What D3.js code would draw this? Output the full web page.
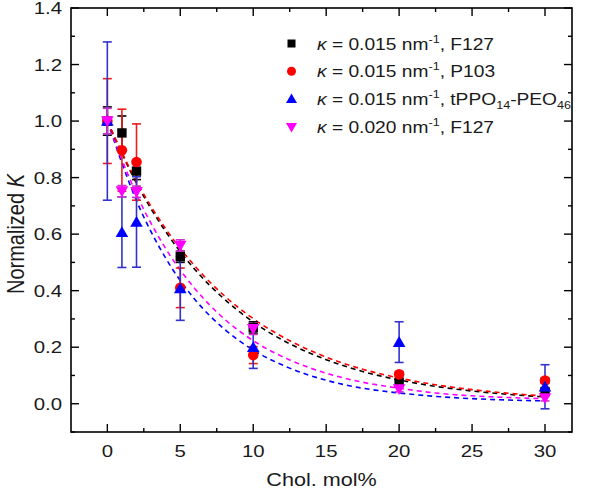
<!DOCTYPE html>
<html><head><meta charset="utf-8">
<script src="https://cdn.jsdelivr.net/npm/d3@7"></script>
<style>
html,body{margin:0;padding:0;background:#fff;}
svg{display:block;font-family:"Liberation Sans",Arial,sans-serif;}
</style></head>
<body><svg id="c" width="600" height="489"></svg>
<script>
// ---- data ----
const xValues = [0, 1, 2, 5, 10, 20, 30];
const blackY = [1.0, 0.958, 0.823, 0.52, 0.27, 0.075, 0.043];
const blackErr = [0.05, 0.06, 0.03, 0.02, 0.02, 0.01, 0.01];
const redY = [1.0, 0.897, 0.855, 0.41, 0.172, 0.104, 0.082];
const redErr = [0.15, 0.145, 0.135, 0.07, 0.03, 0.01, 0.01];
const blueY = [1.0, 0.607, 0.643, 0.408, 0.2, 0.218, 0.06];
const blueErr = [0.28, 0.125, 0.16, 0.113, 0.075, 0.072, 0.078];
const pinkY = [1.0, 0.752, 0.75, 0.56, 0.265, 0.052, 0.02];
const pinkErr = [0.045, 0.02, 0.02, 0.02, 0.02, 0.01, 0.01];

const fitX = [0, 2, 4, 6, 8, 10, 12.5, 15, 17.5, 20, 22.5, 25, 27.5, 30];
const blackFit = [1.0, 0.780, 0.609, 0.475, 0.371, 0.289, 0.212, 0.156, 0.114, 0.084, 0.0614, 0.045, 0.033, 0.0242];
const redFit = [1.0, 0.787, 0.619, 0.487, 0.383, 0.301, 0.223, 0.165, 0.122, 0.091, 0.067, 0.050, 0.037, 0.027];
const pinkFit = [1.0, 0.741, 0.549, 0.407, 0.301, 0.223, 0.155, 0.108, 0.076, 0.055, 0.038, 0.028, 0.022, 0.018];
const blueFit = [1.0, 0.718, 0.515, 0.369, 0.265, 0.190, 0.126, 0.083, 0.055, 0.038, 0.026, 0.018, 0.013, 0.010];

const xTicks = [0, 5, 10, 15, 20, 25, 30];
const xMinor = [2.5, 7.5, 12.5, 17.5, 22.5, 27.5];
const yTicks = [0.0, 0.2, 0.4, 0.6, 0.8, 1.0, 1.2, 1.4];
const yMinor = [-0.1, 0.1, 0.3, 0.5, 0.7, 0.9, 1.1, 1.3];

const legendKappa = ["0.015", "0.015", "0.015", "0.020"];
const legendName = ["F127", "P103", "tPPO", "F127"];

// ---- layout ----
const svg = d3.select("#c");
const L = 71, R = 572, T = 8, B = 432;
const SX = 1.2; // horizontal stretch of the reference's text
const x = d3.scaleLinear().domain([-2.49, 31.85]).range([L, R]);
const y = d3.scaleLinear().domain([-0.1, 1.4]).range([B, T]);

const series = [
  {ys: blackY, err: blackErr, fit: blackFit, color: "#000000", bar: "#000000", shape: "square"},
  {ys: redY, err: redErr, fit: redFit, color: "#ff0000", bar: "#ee1c1c", shape: "circle"},
  {ys: blueY, err: blueErr, fit: blueFit, color: "#0000ff", bar: "#3333cc", shape: "triangle"},
  {ys: pinkY, err: pinkErr, fit: pinkFit, color: "#ff00ff", bar: "#cc33cc", shape: "down"}
];

// fit curves
const line = d3.line().x((d,i)=>x(fitX[i])).y(d=>y(d)).curve(d3.curveMonotoneX);
[series[2], series[3], series[0], series[1]].forEach(s=>{
  svg.append("path").attr("d", line(s.fit)).attr("fill","none")
    .attr("stroke", s.color).attr("stroke-width",1.6).attr("stroke-dasharray","5,4");
});

function marker(g, shape, cx, cy, color){
  if(shape==="square"){
    g.append("rect").attr("x",cx-4.7).attr("y",cy-4.7).attr("width",9.4).attr("height",9.4).attr("fill",color);
  } else if(shape==="circle"){
    g.append("circle").attr("cx",cx).attr("cy",cy).attr("r",5.3).attr("fill",color);
  } else if(shape==="triangle"){
    g.append("path").attr("d",`M${cx},${cy-6}L${cx+6.3},${cy+4.8}L${cx-6.3},${cy+4.8}Z`).attr("fill",color);
  } else {
    g.append("path").attr("d",`M${cx},${cy+6}L${cx+6.3},${cy-4.8}L${cx-6.3},${cy-4.8}Z`).attr("fill",color);
  }
}

// error bars and markers
series.forEach(s=>{
  const g = svg.append("g");
  xValues.forEach((xv,i)=>{
    const cx = x(xv), y0 = y(s.ys[i]-s.err[i]), y1 = y(s.ys[i]+s.err[i]);
    g.append("line").attr("x1",cx).attr("x2",cx).attr("y1",y0).attr("y2",y1).attr("stroke",s.bar).attr("stroke-width",1.6);
    [y0,y1].forEach(yy=>g.append("line").attr("x1",cx-4.5).attr("x2",cx+4.5).attr("y1",yy).attr("y2",yy).attr("stroke",s.bar).attr("stroke-width",1.6));
  });
});
series.forEach(s=>{
  const g = svg.append("g");
  xValues.forEach((xv,i)=>marker(g, s.shape, x(xv), y(s.ys[i]), s.color));
});

// frame and ticks
svg.append("rect").attr("x",L).attr("y",T).attr("width",R-L).attr("height",B-T)
  .attr("fill","none").attr("stroke","#000").attr("stroke-width",1.6);
const ax = svg.append("g").attr("stroke","#000").attr("stroke-width",1.4);
xTicks.forEach(v=>{
  ax.append("line").attr("x1",x(v)).attr("x2",x(v)).attr("y1",B).attr("y2",B-8);
  ax.append("line").attr("x1",x(v)).attr("x2",x(v)).attr("y1",T).attr("y2",T+8);
});
xMinor.forEach(v=>{
  ax.append("line").attr("x1",x(v)).attr("x2",x(v)).attr("y1",B).attr("y2",B-4);
  ax.append("line").attr("x1",x(v)).attr("x2",x(v)).attr("y1",T).attr("y2",T+4);
});
yTicks.forEach(v=>{
  ax.append("line").attr("x1",L).attr("x2",L+8).attr("y1",y(v)).attr("y2",y(v));
  ax.append("line").attr("x1",R).attr("x2",R-8).attr("y1",y(v)).attr("y2",y(v));
});
yMinor.forEach(v=>{
  ax.append("line").attr("x1",L).attr("x2",L+4).attr("y1",y(v)).attr("y2",y(v));
  ax.append("line").attr("x1",R).attr("x2",R-4).attr("y1",y(v)).attr("y2",y(v));
});

function stext(px, py, anchor, size){
  return svg.append("g").attr("transform",`translate(${px},${py}) scale(${SX},1)`)
    .append("text").attr("text-anchor",anchor).attr("font-size",size).attr("fill","#1a1a1a");
}

// tick labels
xTicks.forEach(v=>{ stext(x(v), B+25, "middle", 17).text(v); });
yTicks.forEach(v=>{ stext(L-9, y(v)+6, "end", 17).text(v.toFixed(1)); });

// axis titles
stext((L+R)/2, 486, "middle", 18).text("Chol. mol%");
const yt = svg.append("g").attr("transform",`translate(24,234) rotate(-90) scale(1,${SX})`)
  .append("text").attr("text-anchor","middle").attr("font-size",20).attr("fill","#1a1a1a");
yt.append("tspan").text("Normalized ");
yt.append("tspan").attr("font-style","italic").text("K");

// legend
const ly0 = 43.5, ldy = 27.8, lmx = 291.5, ltx = 317;
series.forEach((s,i)=>{
  const yy = ly0 + i*ldy;
  const g = svg.append("g");
  if(s.shape==="square") g.append("rect").attr("x",lmx-4).attr("y",yy-4).attr("width",8).attr("height",8).attr("fill",s.color);
  else if(s.shape==="circle") g.append("circle").attr("cx",lmx).attr("cy",yy).attr("r",4.5).attr("fill",s.color);
  else if(s.shape==="triangle") g.append("path").attr("d",`M${lmx},${yy-5.5}L${lmx+5.5},${yy+4}L${lmx-5.5},${yy+4}Z`).attr("fill",s.color);
  else g.append("path").attr("d",`M${lmx},${yy+5.5}L${lmx+5.5},${yy-4}L${lmx-5.5},${yy-4}Z`).attr("fill",s.color);
  const t = stext(ltx, yy+6, "start", 16);
  t.append("tspan").attr("font-style","italic").text("κ");
  t.append("tspan").text(" = " + legendKappa[i] + " nm");
  t.append("tspan").attr("font-size",10.5).attr("dy",-7).text("-1");
  t.append("tspan").attr("dy",7).text(", " + legendName[i]);
  if(i===2){
    t.append("tspan").attr("font-size",10.5).attr("dy",4).text("14");
    t.append("tspan").attr("dy",-4).text("-PEO");
    t.append("tspan").attr("font-size",10.5).attr("dy",4).text("46");
  }
});
</script></body></html>
